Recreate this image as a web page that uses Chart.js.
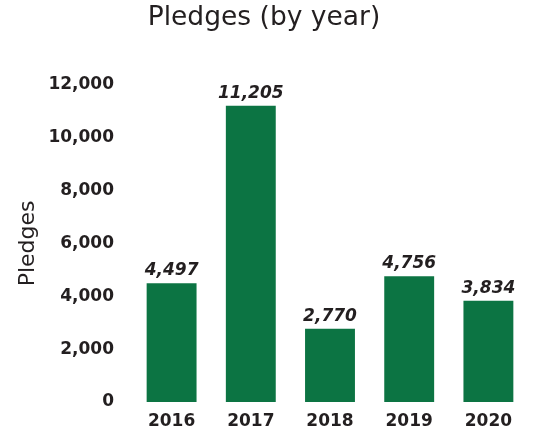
<!DOCTYPE html>
<html>
<head>
<meta charset="utf-8">
<script src="https://cdn.jsdelivr.net/npm/chart.js@4"></script>
<style>
html,body{margin:0;padding:0;background:#fff;}
#wrap{width:533px;height:436px;}
</style>
</head>
<body>
<div id="wrap"><canvas id="c" width="533" height="436"></canvas></div>
<script>
const years = ["2016", "2017", "2018", "2019", "2020"];
const pledges = [4497, 11205, 2770, 4756, 3834];
const yTicks = [0, 2000, 4000, 6000, 8000, 10000, 12000];

const TEXT = "#231f20";
const GREEN = "#0c7443";
const fmt = v => v.toLocaleString("en-US");

const valueLabels = {
  id: "valueLabels",
  afterDatasetsDraw(chart) {
    const ctx = chart.ctx;
    const meta = chart.getDatasetMeta(0);
    ctx.save();
    ctx.font = "italic bold 17px 'DejaVu Sans'";
    ctx.fillStyle = TEXT;
    ctx.textAlign = "center";
    ctx.textBaseline = "alphabetic";
    meta.data.forEach((bar, i) => {
      ctx.fillText(fmt(chart.data.datasets[0].data[i]), bar.x, bar.y - 8);
    });
    ctx.restore();
  }
};

new Chart(document.getElementById("c"), {
  type: "bar",
  data: {
    labels: years,
    datasets: [{
      data: pledges,
      backgroundColor: GREEN,
      borderWidth: 0,
      categoryPercentage: 1.0,
      barPercentage: 0.63
    }]
  },
  options: {
    responsive: false,
    animation: false,
    devicePixelRatio: 1,
    layout: { padding: { top: 0, right: 5, bottom: 0, left: 0 } },
    plugins: {
      legend: { display: false },
      tooltip: { enabled: false },
      title: {
        display: true,
        text: "Pledges (by year)",
        color: TEXT,
        font: { family: "'DejaVu Sans'", size: 26.5, weight: "normal" },
        padding: { top: 2, bottom: 51 }
      }
    },
    scales: {
      x: {
        afterFit(scale) { scale.height = 34; },
        grid: { display: false, drawTicks: false },
        border: { display: false },
        ticks: {
          color: TEXT,
          font: { family: "'DejaVu Sans'", size: 17, weight: "bold" },
          padding: 9
        }
      },
      y: {
        min: 0,
        max: 12000,
        afterBuildTicks(scale) { scale.ticks = yTicks.map(v => ({ value: v })); },
        afterFit(scale) { scale.width = 132; },
        grid: { display: false, drawTicks: false },
        border: { display: false },
        ticks: {
          color: TEXT,
          font: { family: "'DejaVu Sans'", size: 17, weight: "bold" },
          padding: 18,
          callback: v => fmt(v)
        },
        title: {
          display: true,
          text: "Pledges",
          color: TEXT,
          font: { family: "'DejaVu Sans'", size: 22, weight: "normal" },
          padding: { top: 15, bottom: 0 }
        }
      }
    }
  },
  plugins: [valueLabels]
});
</script>
</body>
</html>
